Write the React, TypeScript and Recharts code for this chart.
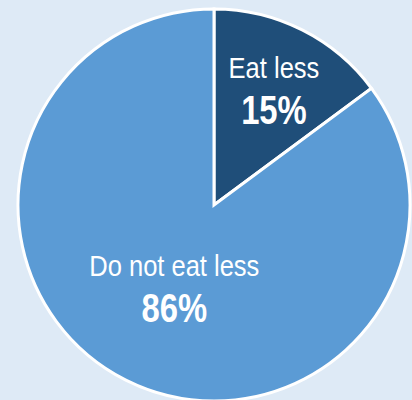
import React from "react";
import { PieChart, Pie, Cell } from "recharts";

const categories = ["Eat less", "Do not eat less"];
const shares = [15, 86];
const labels = ["15%", "86%"];

const SLICE_COLORS = ["#1f4e79", "#5b9bd5"];
const LABEL_RADIUS = [0.68, 0.45];
const FONT = '"Liberation Sans", Arial, sans-serif';
const RAD = Math.PI / 180;

const data = categories.map((name, i) => ({ name, value: shares[i], label: labels[i] }));

// Arial Narrow isn't available, so squeeze Liberation Sans horizontally
function renderLabel(props: any) {
  const { cx, cy, midAngle, outerRadius, index } = props;
  const r = outerRadius * LABEL_RADIUS[index];
  const x = cx + r * Math.cos(-midAngle * RAD);
  const y = cy + r * Math.sin(-midAngle * RAD);
  return (
    <g>
      <text
        transform={`translate(${x},${y - 8}) scale(0.88,1)`}
        textAnchor="middle"
        fill="#fff"
        fontSize={29}
        fontFamily={FONT}
      >
        {data[index].name}
      </text>
      <text
        transform={`translate(${x},${y + 38}) scale(0.8,1)`}
        textAnchor="middle"
        fill="#fff"
        fontSize={41}
        fontWeight="bold"
        fontFamily={FONT}
      >
        {data[index].label}
      </text>
    </g>
  );
}

export default function App() {
  return (
    <div style={{ position: "absolute", left: 0, top: 0, width: 412, height: 400, background: "#deeaf6" }}>
      <PieChart width={412} height={400} margin={{ top: 0, right: 0, bottom: 0, left: 0 }}>
        <Pie
          data={data}
          dataKey="value"
          nameKey="name"
          cx={214}
          cy={205}
          outerRadius={196}
          startAngle={90}
          endAngle={-270}
          stroke="#ffffff"
          strokeWidth={3}
          label={renderLabel}
          labelLine={false}
          isAnimationActive={false}
        >
          {data.map((d, i) => (
            <Cell key={d.name} fill={SLICE_COLORS[i]} />
          ))}
        </Pie>
      </PieChart>
    </div>
  );
}
